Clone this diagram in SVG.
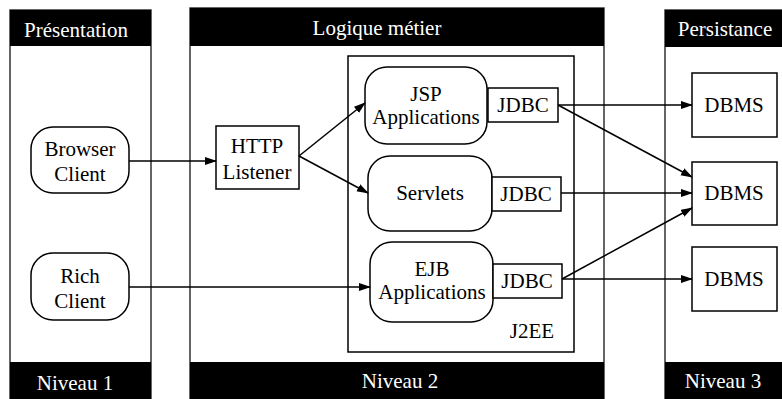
<svg xmlns="http://www.w3.org/2000/svg" width="782" height="399" viewBox="0 0 782 399">
<style>
.col{fill:#fff;stroke:#333;stroke-width:1.5}
.hdr{fill:#000}
.ht{font-family:'Liberation Serif','Times New Roman',Times,'DejaVu Serif',serif;font-size:21px;fill:#fff;text-anchor:middle}
.t{font-family:'Liberation Serif','Times New Roman',Times,'DejaVu Serif',serif;font-size:21px;fill:#000;text-anchor:middle}
.box{fill:#fff;stroke:#000;stroke-width:1.5}
.c{stroke:#000;stroke-width:1.5;fill:none;marker-end:url(#ah)}
</style>
<defs>
<marker id="ah" markerWidth="12" markerHeight="10" refX="11" refY="4" orient="auto" markerUnits="userSpaceOnUse">
<path d="M0,0 L12,4 L0,8 z" fill="#000"/>
</marker>
</defs>
<rect width="782" height="399" fill="#fff"/>
<g id="col1">
<rect class="col" x="10" y="10" width="141" height="395"/>
<rect class="hdr" x="10" y="10" width="141" height="36"/>
<text class="ht" x="76" y="37">Présentation</text>
<rect class="hdr" x="10" y="362" width="141" height="37"/>
<text class="ht" x="75" y="390">Niveau 1</text>
</g>
<g id="col2">
<rect class="col" x="190" y="8" width="414" height="397"/>
<rect class="hdr" x="190" y="8" width="414" height="38"/>
<text class="ht" x="377" y="35">Logique métier</text>
<rect class="hdr" x="190" y="362" width="414" height="37"/>
<text class="ht" x="400" y="388">Niveau 2</text>
</g>
<g id="col3">
<rect class="col" x="665" y="10" width="125" height="395"/>
<rect class="hdr" x="665" y="10" width="125" height="37"/>
<text class="ht" x="725" y="36">Persistance</text>
<rect class="hdr" x="665" y="362" width="125" height="37"/>
<text class="ht" x="723" y="388">Niveau 3</text>
</g>
<g id="j2ee">
<rect class="box" x="348" y="56" width="226" height="296" stroke="#333"/>
<text class="t" x="532" y="338">J2EE</text>
</g>
<g id="browser">
<rect class="box" x="31" y="127" width="98" height="66" rx="22"/>
<text class="t" x="80" y="156">Browser</text>
<text class="t" x="80" y="181">Client</text>
</g>
<g id="rich">
<rect class="box" x="31" y="253" width="98" height="67" rx="22"/>
<text class="t" x="80" y="283">Rich</text>
<text class="t" x="80" y="308">Client</text>
</g>
<g id="http">
<rect class="box" x="216" y="126" width="83" height="63"/>
<text class="t" x="257" y="153">HTTP</text>
<text class="t" x="257" y="179">Listener</text>
</g>
<g id="jsp">
<rect class="box" x="365" y="67" width="122" height="77" rx="22"/>
<text class="t" x="426" y="101">JSP</text>
<text class="t" x="426" y="124">Applications</text>
</g>
<g id="jdbc1">
<rect class="box" x="488" y="88" width="70" height="34"/>
<text class="t" x="523" y="112">JDBC</text>
</g>
<g id="servlets">
<rect class="box" x="368" y="156" width="124" height="75" rx="22"/>
<text class="t" x="430" y="200">Servlets</text>
</g>
<g id="jdbc2">
<rect class="box" x="492" y="177" width="69" height="34"/>
<text class="t" x="526" y="201">JDBC</text>
</g>
<g id="ejb">
<rect class="box" x="370" y="242" width="123" height="80" rx="22"/>
<text class="t" x="432" y="276">EJB</text>
<text class="t" x="432" y="299">Applications</text>
</g>
<g id="jdbc3">
<rect class="box" x="493" y="264" width="69" height="34"/>
<text class="t" x="527" y="288">JDBC</text>
</g>
<g id="dbms1">
<rect class="box" x="692" y="73" width="85" height="64"/>
<text class="t" x="734" y="112">DBMS</text>
</g>
<g id="dbms2">
<rect class="box" x="692" y="162" width="85" height="63"/>
<text class="t" x="734" y="200">DBMS</text>
</g>
<g id="dbms3">
<rect class="box" x="692" y="247" width="85" height="64"/>
<text class="t" x="734" y="286">DBMS</text>
</g>
<g id="connectors">
<line class="c" x1="129" y1="161" x2="216" y2="161"/>
<line class="c" x1="299" y1="156" x2="365" y2="103"/>
<line class="c" x1="299" y1="156" x2="368" y2="193"/>
<line class="c" x1="129" y1="287" x2="370" y2="287"/>
<line class="c" x1="558" y1="105" x2="692" y2="105"/>
<line class="c" x1="558" y1="105" x2="692" y2="177"/>
<line class="c" x1="561" y1="193" x2="692" y2="193"/>
<line class="c" x1="562" y1="279" x2="692" y2="208"/>
<line class="c" x1="562" y1="279" x2="692" y2="279"/>
</g>
</svg>
